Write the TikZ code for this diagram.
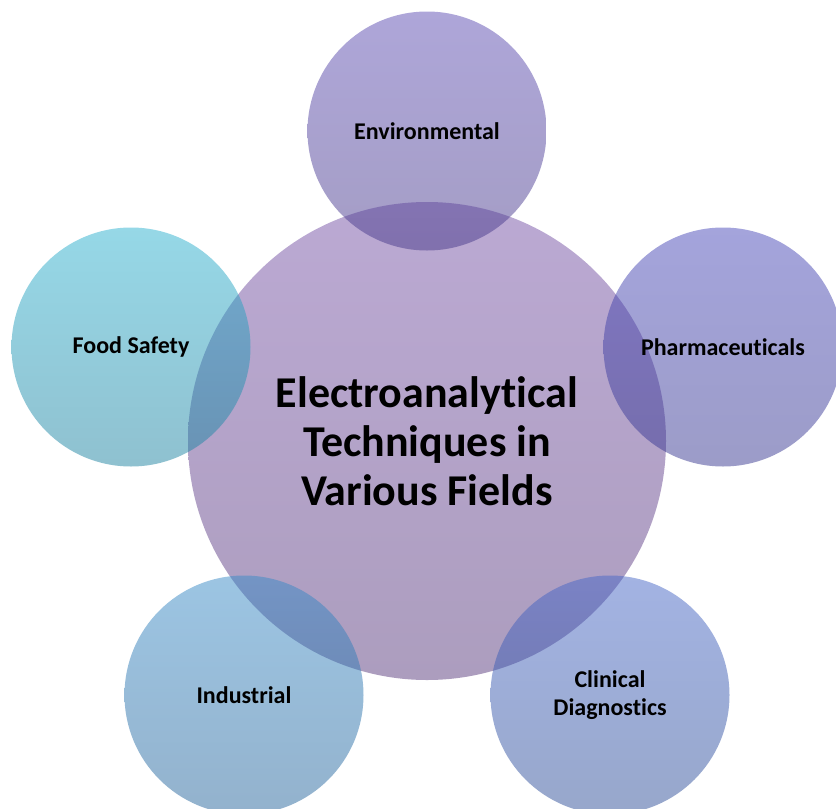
\documentclass[tikz,border=0pt]{standalone}
\usepackage{fontspec}
\setmainfont{Carlito}[RawFeature={-liga;-clig;-calt}]
\begin{document}
\begin{tikzpicture}[x=1pt,y=-1pt,
  hub/.style={circle, minimum size=478pt, inner sep=0pt, align=center,
    top color=hubTop, bottom color=hubBot,
    font=\bfseries\fontsize{44}{49}\selectfont},
  field/.style={circle, minimum size=239pt, inner sep=0pt, align=center,
    fill opacity=0.5, text opacity=1,
    font=\bfseries\fontsize{24}{28}\selectfont}]
  \definecolor{hubTop}{RGB}{187,169,211}
  \definecolor{hubBot}{RGB}{172,157,190}
  \definecolor{envTop}{RGB}{93,77,179}
  \definecolor{envBot}{RGB}{73,59,139}
  \definecolor{phaTop}{RGB}{73,73,185}
  \definecolor{phaBot}{RGB}{57,57,145}
  \definecolor{fooTop}{RGB}{45,177,207}
  \definecolor{fooBot}{RGB}{31,131,161}
  \definecolor{indTop}{RGB}{57,139,199}
  \definecolor{indBot}{RGB}{39,101,155}
  \definecolor{cliTop}{RGB}{71,103,199}
  \definecolor{cliBot}{RGB}{47,79,151}
  \useasboundingbox (0,0) rectangle (836,809);
  % central hub
  \node[hub] (hub) at (427,441) {Electroanalytical\\Techniques in\\Various Fields};
  % surrounding fields, translucent so the overlaps darken
  \node[field, top color=envTop, bottom color=envBot] (env) at (427,131) {Environmental};
  \node[field, top color=phaTop, bottom color=phaBot] (pha) at (723,347) {Pharmaceuticals};
  \node[field, top color=fooTop, bottom color=fooBot] (foo) at (131,347) {Food Safety};
  \node[field, top color=indTop, bottom color=indBot] (ind) at (244,695) {Industrial};
  \node[field, top color=cliTop, bottom color=cliBot] (cli) at (610,695) {Clinical\\Diagnostics};
\end{tikzpicture}
\end{document}
